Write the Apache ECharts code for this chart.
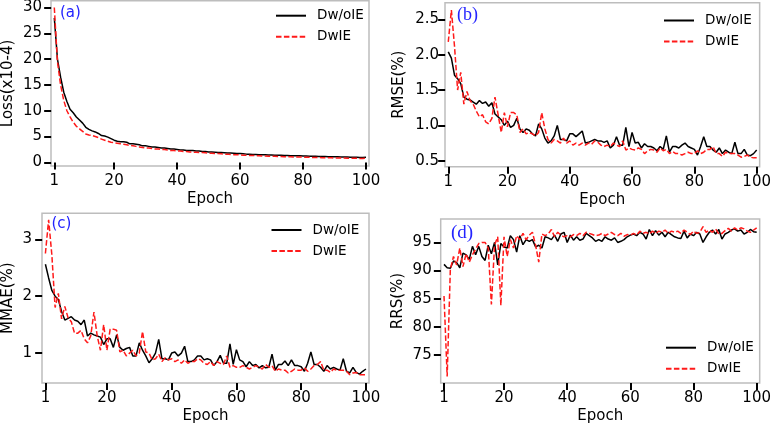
<!DOCTYPE html>
<html>
<head>
<meta charset="utf-8">
<script src="https://cdn.jsdelivr.net/npm/echarts@6/dist/echarts.min.js"></script>
<style>
html,body{margin:0;padding:0;background:#fff;}
#chart{width:774px;height:425px;}
</style>
</head>
<body>
<div id="chart"></div>
<script>
// ---- data ----
const epochs = Array.from({length: 100}, (_, i) => i + 1);
const seriesNames = ['Dw/oIE', 'DwIE'];
const xTicks = [1, 20, 40, 60, 80, 100];

const lossNoIE = [28.0,20.0,16.5,13.6,11.8,10.3,9.6,8.8,8.2,7.6,
6.8,6.4,6.1,5.9,5.6,5.2,5.1,4.9,4.6,4.3,
4.1,4.0,4.0,3.9,3.6,3.6,3.5,3.4,3.2,3.2,
3.1,3.0,3.0,2.9,2.8,2.8,2.7,2.6,2.6,2.5,
2.4,2.4,2.3,2.3,2.3,2.2,2.2,2.1,2.1,2.0,
2.0,1.95,1.9,1.9,1.85,1.8,1.8,1.75,1.7,1.7,
1.65,1.6,1.6,1.55,1.55,1.5,1.5,1.5,1.45,1.45,
1.4,1.4,1.4,1.35,1.35,1.3,1.3,1.3,1.3,1.25,
1.25,1.2,1.2,1.2,1.15,1.15,1.15,1.1,1.1,1.1,
1.1,1.05,1.05,1.05,1.0,1.0,1.0,0.95,0.95,1.0];
const lossIE = [30.0,19.5,15.0,12.0,10.0,8.8,7.8,7.0,6.5,6.0,
5.5,5.3,5.2,5.0,4.8,4.5,4.3,4.1,3.9,3.8,
3.7,3.6,3.5,3.4,3.3,3.2,3.1,3.0,2.9,2.8,
2.8,2.7,2.6,2.6,2.5,2.5,2.4,2.3,2.3,2.2,
2.2,2.1,2.1,2.0,2.0,1.95,1.9,1.9,1.85,1.8,
1.75,1.7,1.7,1.65,1.6,1.6,1.55,1.5,1.5,1.45,
1.4,1.4,1.35,1.35,1.3,1.3,1.25,1.25,1.2,1.2,
1.2,1.15,1.15,1.1,1.1,1.1,1.05,1.05,1.05,1.0,
1.0,1.0,0.95,0.95,0.95,0.9,0.9,0.9,0.9,0.85,
0.85,0.85,0.85,0.8,0.8,0.8,0.8,0.75,0.75,0.8];

const rmseNoIE = [2.04,1.95,1.71,1.66,1.59,1.40,1.37,1.36,1.33,1.30,
1.35,1.31,1.33,1.27,1.32,1.16,1.12,1.08,1.0,1.06,
0.97,1.0,1.1,0.95,0.9,0.95,0.93,0.88,0.85,1.02,
0.95,0.82,0.75,0.78,0.85,1.0,0.8,0.8,0.78,0.88,
0.88,0.84,0.88,0.92,0.75,0.76,0.78,0.8,0.78,0.78,
0.76,0.78,0.68,0.72,0.84,0.72,0.72,0.97,0.7,0.9,
0.75,0.76,0.68,0.74,0.7,0.7,0.68,0.64,0.7,0.66,
0.85,0.62,0.7,0.7,0.68,0.72,0.75,0.7,0.68,0.66,
0.58,0.7,0.84,0.7,0.7,0.65,0.62,0.68,0.6,0.65,
0.62,0.6,0.76,0.6,0.6,0.66,0.58,0.57,0.6,0.65];
const rmseIE = [2.18,2.63,2.12,1.5,1.75,1.3,1.48,1.35,1.3,1.2,
1.12,1.15,1.05,1.02,1.1,1.4,1.15,0.9,1.18,0.98,
1.18,1.18,1.15,0.9,0.95,0.88,0.9,0.88,0.85,0.9,
1.18,0.95,0.8,0.75,0.8,0.78,0.75,0.82,0.75,0.78,
0.72,0.75,0.72,0.75,0.72,0.75,0.73,0.78,0.76,0.72,
0.7,0.72,0.7,0.75,0.72,0.7,0.78,0.65,0.68,0.66,
0.65,0.68,0.66,0.6,0.64,0.66,0.65,0.62,0.68,0.64,
0.66,0.6,0.63,0.6,0.6,0.58,0.6,0.62,0.6,0.6,
0.64,0.6,0.62,0.66,0.66,0.7,0.6,0.6,0.56,0.62,
0.6,0.6,0.6,0.58,0.55,0.56,0.58,0.55,0.54,0.54];

const mmaeNoIE = [2.56,2.32,2.1,2.0,1.94,1.73,1.58,1.61,1.64,1.58,
1.56,1.5,1.58,1.3,1.35,1.32,1.3,1.28,1.15,1.25,
1.25,1.1,1.32,1.1,1.05,1.08,1.1,0.95,0.95,1.18,
1.05,0.95,0.83,0.9,1.0,1.24,0.9,0.9,0.88,1.0,
1.02,0.95,1.0,1.12,0.85,0.85,0.88,0.95,0.95,0.88,
0.9,0.88,0.78,0.85,0.96,0.82,0.82,1.16,0.8,1.06,
0.88,0.85,0.76,0.85,0.78,0.8,0.74,0.78,0.74,0.75,
0.98,0.7,0.8,0.8,0.86,0.78,0.88,0.78,0.78,0.76,
0.68,0.82,1.02,0.8,0.8,0.75,0.68,0.78,0.72,0.75,
0.72,0.7,0.9,0.68,0.65,0.75,0.66,0.63,0.68,0.72];
const mmaeIE = [2.75,3.34,2.72,1.8,2.05,1.6,1.82,1.62,1.55,1.35,
1.35,1.4,1.25,1.18,1.3,1.72,1.3,1.05,1.5,1.05,
1.42,1.42,1.4,1.02,1.05,0.95,1.0,1.05,0.95,1.0,
1.38,1.02,1.0,0.88,0.9,0.98,0.85,0.92,0.88,0.9,
0.85,0.88,0.82,0.88,0.82,0.85,0.85,0.9,0.88,0.82,
0.8,0.85,0.78,0.85,0.82,0.8,0.95,0.75,0.78,0.75,
0.75,0.78,0.75,0.72,0.75,0.78,0.75,0.72,0.8,0.75,
0.78,0.68,0.72,0.7,0.7,0.65,0.68,0.72,0.7,0.7,
0.74,0.68,0.72,0.78,0.8,0.85,0.7,0.7,0.66,0.72,
0.7,0.7,0.7,0.68,0.62,0.65,0.66,0.62,0.62,0.62];

const rrsNoIE = [91.1,90.5,90.4,91.7,91.4,90.5,93.1,92.8,92.0,94.3,
92.8,94.3,92.5,91.8,94.5,93.0,95.0,91.0,94.8,94.2,
94.0,96.2,95.5,93.3,96.2,94.6,95.5,95.2,95.5,94.2,
94.5,94.0,96.0,95.8,95.5,96.3,95.2,96.5,96.8,95.0,
96.3,95.4,96.0,95.4,95.6,96.6,96.2,95.8,95.2,95.5,
95.2,96.0,95.6,95.4,95.8,95.0,95.2,95.5,96.0,96.3,
96.5,96.2,96.8,96.5,95.6,97.3,96.2,97.1,96.3,96.8,
96.0,96.8,96.4,96.0,95.8,95.7,97.0,95.8,96.5,96.2,
96.8,96.5,95.0,96.0,96.8,97.2,96.5,97.3,95.6,96.5,
96.8,97.2,97.4,97.0,97.2,96.5,96.8,97.3,96.9,96.8];
const rrsIE = [85.5,71.2,90.2,92.5,91.0,94.0,90.7,93.0,91.5,92.8,
93.8,94.8,95.0,95.0,94.0,84.0,94.5,96.0,83.8,96.0,
92.5,95.5,94.0,96.2,95.5,96.6,95.5,96.3,96.8,94.5,
91.5,96.5,96.2,96.5,97.3,96.0,96.8,96.3,96.0,96.2,
96.0,96.4,96.2,96.6,96.2,96.8,96.6,96.4,96.2,96.3,
96.6,96.2,96.5,96.8,96.4,96.2,96.6,96.1,96.4,96.3,
96.6,96.3,97.0,96.6,96.8,96.5,97.0,96.6,97.0,96.8,
97.2,96.6,97.0,96.8,97.0,96.6,97.2,96.8,96.4,97.0,
96.6,96.8,97.8,96.8,97.2,96.8,97.4,96.5,96.6,97.1,
97.5,97.0,97.6,97.2,97.6,97.4,97.0,96.8,97.2,97.6];

const yTicksLoss = [0, 5, 10, 15, 20, 25, 30];
const yTicksRmse = [0.5, 1.0, 1.5, 2.0, 2.5];
const yTicksMmae = [1, 2, 3];
const yTicksRrs = [75, 80, 85, 90, 95];

// ---- chart ----
const FONT = 'DejaVu Sans';
const panels = [
  {grid:{left:50, top:0.5, width:319, height:165.5}, ymin:-0.7, ymax:31.3, yt:yTicksLoss, yname:'Loss(x10-4)', a:lossNoIE, b:lossIE, fmt:v=>String(v), lm:9, ng:35,
   leg:{left:275, top:8.7}, lab:{text:'(a)', left:60, top:6, ff:FONT, fs:15}},
  {grid:{left:445, top:2.7, width:316, height:164}, ymin:0.415, ymax:2.735, yt:yTicksRmse, yname:'RMSE(%)', a:rmseNoIE, b:rmseIE, fmt:v=>v.toFixed(1), lm:6, ng:38,
   leg:{left:663, top:13.5}, lab:{text:'(b)', left:457, top:6, ff:'Liberation Serif', fs:18}},
  {grid:{left:41, top:213.3, width:328, height:170}, ymin:0.474, ymax:3.456, yt:yTicksMmae, yname:'MMAE(%)', a:mmaeNoIE, b:mmaeIE, fmt:v=>String(v), lm:10, ng:26,
   leg:{left:270.5, top:223}, lab:{text:'(c)', left:51.5, top:217, ff:FONT, fs:15}},
  {grid:{left:440.7, top:219, width:320.3, height:166}, ymin:70.03, ymax:99.16, yt:yTicksRrs, yname:'RRS(%)', a:rrsNoIE, b:rrsIE, fmt:v=>String(v), lm:9, ng:35,
   leg:{left:665, top:340.7}, lab:{text:'(d)', left:451, top:224, ff:'Liberation Serif', fs:19}}
];

const option = {
  animation: false,
  backgroundColor: '#fff',
  grid: [], xAxis: [], yAxis: [], series: [], legend: [], title: []
};

panels.forEach((p, i) => {
  option.grid.push(Object.assign({show:true, borderColor:'#bdbdbd', borderWidth:1.5, backgroundColor:'transparent'}, p.grid));
  option.xAxis.push({
    type:'value', gridIndex:i, min:-0.05, max:100.95,
    name:'Epoch', nameLocation:'middle', nameGap:26,
    nameTextStyle:{fontFamily:FONT, fontSize:15, color:'#000'},
    axisLine:{show:false}, splitLine:{show:false},
    axisTick:{show:true, length:7, lineStyle:{color:'#000', width:2}, customValues:xTicks},
    axisLabel:{fontFamily:FONT, fontSize:15, color:'#000', margin:8, customValues:xTicks}
  });
  option.yAxis.push({
    type:'value', gridIndex:i, min:p.ymin, max:p.ymax,
    name:p.yname, nameLocation:'middle', nameGap:p.ng,
    nameTextStyle:{fontFamily:FONT, fontSize:15, color:'#000'},
    axisLine:{show:false}, splitLine:{show:false},
    axisTick:{show:true, length:7, lineStyle:{color:'#000', width:2}, customValues:p.yt},
    axisLabel:{fontFamily:FONT, fontSize:15, color:'#000', margin:p.lm, customValues:p.yt, formatter:p.fmt}
  });
  option.series.push({
    name:seriesNames[0], type:'line', xAxisIndex:i, yAxisIndex:i,
    data: epochs.map((e, k) => [e, p.a[k]]),
    showSymbol:false, symbol:'none', lineStyle:{color:'#000', width:1.5}, itemStyle:{color:'#000'}
  });
  option.series.push({
    name:seriesNames[1], type:'line', xAxisIndex:i, yAxisIndex:i,
    data: epochs.map((e, k) => [e, p.b[k]]),
    showSymbol:false, symbol:'none', lineStyle:{color:'#ff1a1a', width:1.5, type:[5.5, 2.4]}, itemStyle:{color:'#ff1a1a'}
  });
  option.legend.push({
    data:seriesNames, orient:'vertical', left:p.leg.left, top:p.leg.top,
    itemWidth:30, itemHeight:14, itemGap:7, padding:0, selectedMode:false,
    itemStyle:{opacity:0},
    textStyle:{fontFamily:FONT, fontSize:13.5, color:'#000', padding:[0,0,0,6]}
  });
  option.title.push({
    text:p.lab.text, left:p.lab.left, top:p.lab.top, padding:0,
    textStyle:{fontFamily:p.lab.ff, fontSize:p.lab.fs, fontWeight:'normal', color:'#2323ff'}
  });
});

const chart = echarts.init(document.getElementById('chart'), null, {renderer:'canvas'});
chart.setOption(option);
</script>
</body>
</html>
